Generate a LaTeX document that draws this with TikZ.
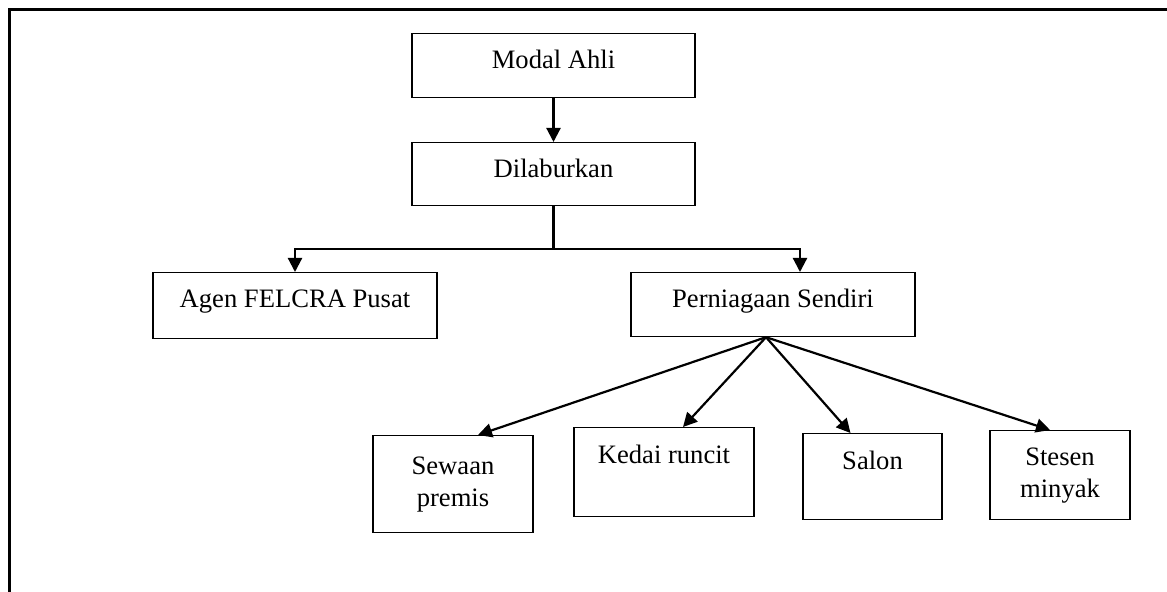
\documentclass[tikz,border=0pt]{standalone}
\usepackage{fontspec}
\setmainfont{Liberation Serif}
\usetikzlibrary{arrows.meta}

\begin{document}
\begin{tikzpicture}[x=0.5pt,y=-0.5pt,
kotak/.style={rectangle,draw=black,line width=0.6pt,anchor=north,inner sep=0pt,align=center,font=\fontsize{13.3}{16}\selectfont},
panah/.style={line width=1.1pt,-{Triangle[length=7pt,width=7pt]}},
garis/.style={line width=1.1pt}]
\useasboundingbox (0,0) rectangle (1167,592);
\draw[line width=1.5pt] (9.5,592) -- (9.5,9.5) -- (1167,9.5);
\path (553.5,33) node(modal) [kotak,minimum width=141.5pt,text height=17.5pt,text depth=14.5pt]{Modal Ahli}
(553.5,142) node(dil) [kotak,minimum width=141.5pt,text height=17.5pt,text depth=14pt]{Dilaburkan}
(295,272) node(agen) [kotak,minimum width=142pt,text height=17.5pt,text depth=15.5pt]{Agen FELCRA Pusat}
(773,272) node(pern) [kotak,minimum width=142pt,text height=17.5pt,text depth=14.5pt]{Perniagaan Sendiri}
(453,435) node(sewa) [kotak,minimum width=80pt,minimum height=48.5pt]{Sewaan\\ premis}
(664,427) node(kedai) [kotak,minimum width=90pt,text height=18pt,text depth=26.5pt]{Kedai runcit}
(872.5,433) node(salon) [kotak,minimum width=69.5pt,text height=18pt,text depth=25pt]{Salon}
(1060,430) node(stesen) [kotak,minimum width=70pt,minimum height=44.5pt]{Stesen\\ minyak};
\coordinate (cab) at (553.5,249);
\draw[panah](modal.south)--(dil.north);
\draw[garis](dil.south)--(cab);
\draw[panah](cab)-|(agen.north);
\draw[panah](cab)-|([xshift=13.5pt]pern.north);
\draw[panah]([xshift=-3.5pt]pern.south)--([xshift=12.5pt]sewa.north);
\draw[panah]([xshift=-3.5pt]pern.south)--([xshift=9.5pt]kedai.north);
\draw[panah]([xshift=-3.5pt]pern.south)--([xshift=-11pt]salon.north);
\draw[panah]([xshift=-3.5pt]pern.south)--([xshift=-5pt]stesen.north);
\end{tikzpicture}
\end{document}
